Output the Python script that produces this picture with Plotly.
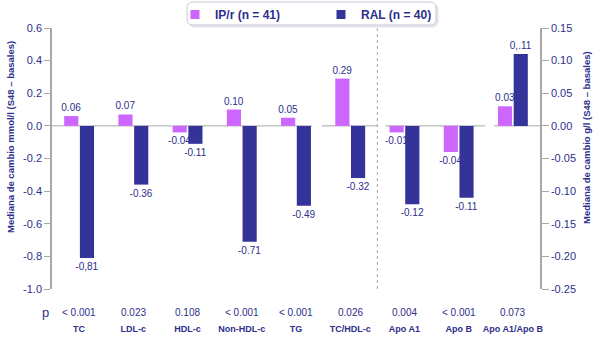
import plotly.graph_objects as go

# Lipid parameters (left axis, mmol/l) and apolipoproteins (right axis, g/l)
categories = ["TC", "LDL-c", "HDL-c", "Non-HDL-c", "TG", "TC/HDL-c",
              "Apo A1", "Apo B", "Apo A1/Apo B"]
left_cats = categories[:6]
right_cats = categories[6:]

ipr_left = [0.06, 0.07, -0.04, 0.10, 0.05, 0.29]
ral_left = [-0.81, -0.36, -0.11, -0.71, -0.49, -0.32]
ipr_right = [-0.01, -0.04, 0.03]
ral_right = [-0.12, -0.11, 0.11]

ipr_left_labels = ["0.06", "0.07", "-0.04", "0.10", "0.05", "0.29"]
ral_left_labels = ["-0,81", "-0.36", "-0.11", "-0.71", "-0.49", "-0.32"]
ipr_right_labels = ["-0.01", "-0.04", "0.03"]
ral_right_labels = ["-0.12", "-0.11", "0,.11"]

p_values = ["< 0.001", "0.023", "0.108", "< 0.001", "< 0.001",
            "0.026", "0.004", "< 0.001", "0.073"]

left_ticks = [0.6, 0.4, 0.2, 0.0, -0.2, -0.4, -0.6, -0.8, -1.0]
left_ticktext = ["0.6", "0.4", "0.2", "0.0", "-0.2", "-0.4", "-0.6", "-0.8", "-1.0"]
right_ticks = [0.15, 0.10, 0.05, 0.0, -0.05, -0.10, -0.15, -0.20, -0.25]
right_ticktext = ["0.15", "0.10", "0.05", "0.00", "-0.05", "-0.10", "-0.15", "-0.20", "-0.25"]

PINK = "#CC66FF"
NAVY = "#333399"
TXT = "#2E2E8C"
AX = "#A8A8A8"
FONT = "Arial, Liberation Sans, sans-serif"

# plot area in pixels (for paper-coordinate helpers)
L, R, T, B = 52, 540, 28, 289
def px(x):
    return (x - L) / (R - L)
def py(y):
    return (B - y) / (B - T)

def bars(x, y, text, color, name, axis):
    return go.Bar(
        x=x, y=y, text=text, name=name, yaxis=axis,
        marker=dict(color=color, line=dict(width=0)),
        textposition="outside", cliponaxis=False, constraintext="none",
        textfont=dict(size=10, color=TXT, family=FONT),
        showlegend=False,
    )

fig = go.Figure()
fig.add_trace(bars(left_cats, ipr_left, ipr_left_labels, PINK, "IP/r (n = 41)", "y"))
fig.add_trace(bars(left_cats, ral_left, ral_left_labels, NAVY, "RAL (n = 40)", "y"))
fig.add_trace(bars(right_cats, ipr_right, ipr_right_labels, PINK, "IP/r (n = 41)", "y2"))
fig.add_trace(bars(right_cats, ral_right, ral_right_labels, NAVY, "RAL (n = 40)", "y2"))

# legend entries with small square swatches
for name, color in [("IP/r (n = 41)", PINK), ("RAL (n = 40)", NAVY)]:
    fig.add_trace(go.Scatter(
        x=[None], y=[None], mode="markers", name=name,
        marker=dict(symbol="square", size=9, color=color),
        showlegend=True,
    ))

shapes = []
# zero reference line (segmented)
for a, b in [(-0.5, 4.3), (4.48, 5.5), (5.65, 7.49), (7.65, 8.5)]:
    shapes.append(dict(type="line", xref="x", yref="y", x0=a, x1=b, y0=0, y1=0,
                       line=dict(color=AX, width=1), layer="below"))
# separator between mmol/l and g/l parameters
shapes.append(dict(type="line", xref="x", yref="paper", x0=5.5, x1=5.5, y0=0, y1=1,
                   line=dict(color=AX, width=1, dash="dot"), layer="below"))

# rounded legend frame
def rounded(x0, y0, x1, y1, r):
    X0, X1 = px(x0), px(x1)
    Y0, Y1 = py(y0), py(y1)
    rx, ry = r / (R - L), r / (B - T)
    return (f"M{X0+rx},{Y0} L{X1-rx},{Y0} Q{X1},{Y0} {X1},{Y0-ry} "
            f"L{X1},{Y1+ry} Q{X1},{Y1} {X1-rx},{Y1} L{X0+rx},{Y1} "
            f"Q{X0},{Y1} {X0},{Y1+ry} L{X0},{Y0-ry} Q{X0},{Y0} {X0+rx},{Y0} Z")

shapes.append(dict(type="path", xref="paper", yref="paper", path=rounded(189, 4, 438, 27, 6),
                   line=dict(color="#E2E2EA", width=1), fillcolor="#E6E6EE", layer="above"))
shapes.append(dict(type="path", xref="paper", yref="paper", path=rounded(187, 2, 436, 25, 6),
                   line=dict(color="#C9C9DA", width=1), fillcolor="white", layer="above"))

annotations = []
for cat, p in zip(categories, p_values):
    annotations.append(dict(x=cat, y=py(312), xref="x", yref="paper", text=p,
                            showarrow=False, yanchor="middle",
                            font=dict(size=10, color=TXT, family=FONT)))
annotations.append(dict(x=px(45), y=py(313), xref="paper", yref="paper", text="p",
                        showarrow=False, yanchor="middle", xanchor="center",
                        font=dict(size=13, color=TXT, family=FONT)))
annotations.append(dict(x=px(10), y=py(137), xref="paper", yref="paper",
                        text="Mediana de cambio mmol/l (S48 – basales)", textangle=-90,
                        showarrow=False, xanchor="center", yanchor="middle",
                        font=dict(size=9.5, color=TXT, family=FONT, weight="bold")))
annotations.append(dict(x=px(586), y=py(138), xref="paper", yref="paper",
                        text="Mediana de cambio g/l (S48 – basales)", textangle=-90,
                        showarrow=False, xanchor="center", yanchor="middle",
                        font=dict(size=9.5, color=TXT, family=FONT, weight="bold")))

fig.update_layout(
    width=600, height=340,
    margin=dict(l=L, r=600 - R, t=T, b=340 - B, autoexpand=False),
    paper_bgcolor="white", plot_bgcolor="white",
    barmode="group", bargap=0.42, bargroupgap=0.1,
    font=dict(family=FONT, color=TXT),
    shapes=shapes, annotations=annotations,
    legend=dict(orientation="h", x=px(321), xanchor="center", y=py(0), yanchor="top",
                bgcolor="rgba(0,0,0,0)", borderwidth=0, traceorder="normal",
                entrywidth=101, entrywidthmode="pixels",
                font=dict(size=12, color=TXT, family=FONT, weight="bold")),
    xaxis=dict(type="category", categoryorder="array", categoryarray=categories,
               range=[-0.5, 8.5], showline=False, showgrid=False, zeroline=False,
               ticks="", ticklabelstandoff=33,
               tickfont=dict(size=9, color=TXT, family=FONT, weight="bold")),
    yaxis=dict(range=[-1.0, 0.6], tickvals=left_ticks, ticktext=left_ticktext,
               showline=True, linecolor=AX, linewidth=1.5, ticks="outside",
               ticklen=6, tickcolor=AX, tickwidth=1, showgrid=False, zeroline=False,
               tickfont=dict(size=11, color=TXT, family=FONT)),
    yaxis2=dict(range=[-0.25, 0.15], tickvals=right_ticks, ticktext=right_ticktext,
                overlaying="y", side="right", anchor="x",
                showline=True, linecolor=AX, linewidth=1.5, ticks="outside",
                ticklen=7, tickcolor=AX, tickwidth=1, showgrid=False, zeroline=False,
                tickfont=dict(size=11, color=TXT, family=FONT)),
)

fig.write_html("out.html")
